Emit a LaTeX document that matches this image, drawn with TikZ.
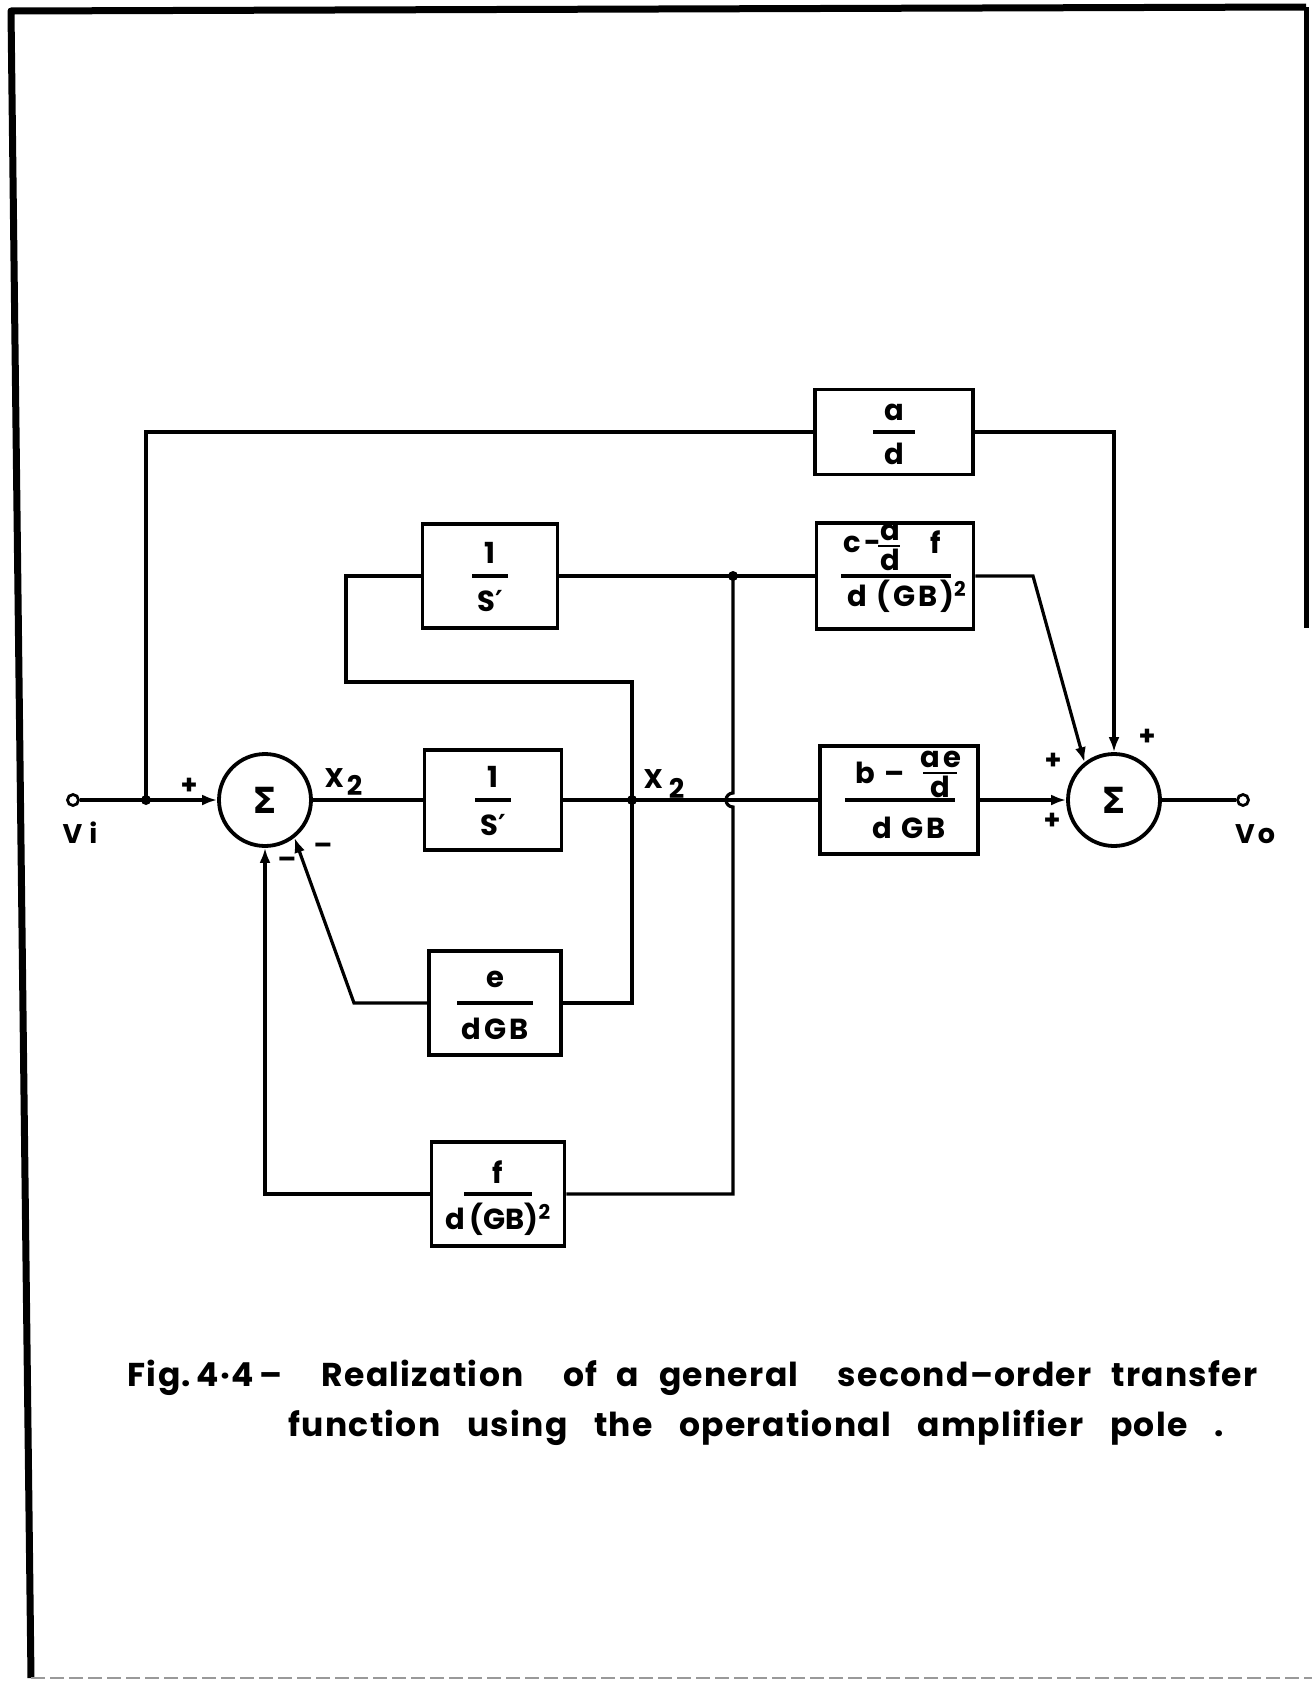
\documentclass[tikz,border=0pt]{standalone}
\usepackage{fontspec}
\setmainfont{Poppins}
\newfontfamily\symfont{DejaVu Sans}
\usetikzlibrary{arrows.meta,calc}
\newcommand\bfs{\fontsize{29}{32}\selectfont\bfseries\addfontfeature{LetterSpace=10}}
\newcommand\lfs{\fontsize{27}{30}\selectfont\bfseries}
\newcommand\capfs{\fontsize{33}{40}\selectfont\bfseries\addfontfeature{LetterSpace=4}}
\newcommand\fracin[6]{%
  \node[lbl,anchor=base] at ($(#1.center)+(0,#5)$) {#2};
  \draw[frule] ($(#1.center)+(-#4,0)$) -- ($(#1.center)+(#4,0)$);
  \node[lbl,anchor=base] at ($(#1.center)+(0,#6)$) {#3};}
\begin{document}
\begin{tikzpicture}[x=1pt,y=-1pt,line width=3.2pt,
  blk/.style={draw,line width=3.8pt,rectangle,inner sep=0},
  sumnode/.style={draw,circle,line width=3.8pt,minimum size=92pt,inner sep=0,font=\symfont\bfseries\fontsize{36}{36}\selectfont},
  term/.style={draw,circle,line width=2.8pt,minimum size=11pt,inner sep=0,fill=white},
  jdot/.style={circle,fill,minimum size=10pt,inner sep=0},
  arr/.style={-{Latex[length=15pt,width=11pt]}},
  lbl/.style={font=\bfs,inner sep=0},
  pm/.style={font=\fontsize{27}{27}\selectfont\bfseries,inner sep=0},
  frule/.style={line width=3.2pt}]
\useasboundingbox (0,0) rectangle (1312,1681);

% page frame
\draw[line width=7pt,line join=round] (31,1678) -- (11,11) -- (1306,7);
\draw[line width=5pt] (1306,7) -- (1306,628);
\draw[line width=1.5pt,black!40,dash pattern=on 14pt off 5pt] (31,1678) -- (1312,1678);

% main nodes
\node[term] (vi) at (73,800) {};
\coordinate (j0) at (146,800);
\node[sumnode] (s1) at (265,800) {Σ};
\node[blk,minimum width=137pt,minimum height=100pt] (b1) at (493,800) {};
\coordinate (j1) at (632,800);
\node[blk,minimum width=158pt,minimum height=108pt] (b4) at (899,800) {};
\node[sumnode] (s2) at (1114,800) {Σ};
\node[term] (vo) at (1243,800) {};
\node[blk,minimum width=135pt,minimum height=104pt] (b2) at (490,576) {};
\coordinate (j2) at (733,576);
\node[blk,minimum width=157pt,minimum height=106pt] (b3) at (895,576) {};
\node[blk,minimum width=158pt,minimum height=85pt] (b5) at (894,432) {};
\node[blk,minimum width=132pt,minimum height=104pt] (b6) at (495,1003) {};
\node[blk,minimum width=133pt,minimum height=104pt] (b7) at (498,1194) {};

% helper coordinates
\coordinate (c3) at (1033,576);
\coordinate (fb1) at (632,682);
\coordinate (fb2) at (346,682);
\coordinate (fb3) at (346,576);
\coordinate (fe) at (632,1003);
\coordinate (ce) at (354,1003);
\coordinate (hopT) at (733,793);
\coordinate (ff) at (733,1194);
\coordinate (cf) at (265,1194);

% connectors
\draw (vi) -- (j0);
\draw[arr] (j0) -- (s1.west);
\draw (s1.east) -- (b1.west);
\draw (b1.east) -- (j1) -- (b4.west);
\draw[arr] (b4.east) -- (s2.west);
\draw (s2.east) -- (vo);
\draw (j0) |- (b5.west);
\draw[arr] (b5.east) -| (s2.north);
\draw (b2.east) -- (j2) -- (b3.west);
\draw[arr] (b3.east) -- (c3) -- (s2.128);
\draw (j1) -- (fb1) -- (fb2) -- (fb3) -- (b2.west);
\draw (j1) -- (fe) -- (b6.east);
\draw[arr] (b6.west) -- (ce) -- (s1.-52);
\draw (j2) -- (hopT) arc[start angle=90,end angle=270,radius=7pt] -- (ff) -- (b7.east);
\draw[arr] (b7.west) -- (cf) -- (s1.south);

% junction dots
\node[jdot] (d0) at (j0) {};
\node[jdot] (d1) at (j1) {};
\node[jdot] (d2) at (j2) {};

% block contents
\fracin{b1}{1}{S{\symfont\bfseries ′}}{18}{-13}{35}
\fracin{b2}{1}{S{\symfont\bfseries ′}}{18}{-13}{35}
\fracin{b5}{a}{d}{21}{-12}{32}
\fracin{b6}{e}{dGB}{38}{-16}{36}
\fracin{b7}{f}{\addfontfeature{LetterSpace=0}d\,(GB)\textsuperscript{2}}{34}{-11}{35}
% b3: c - (a/d) f over d(GB)^2
\node[lbl,anchor=base west] (b3c) at ($(b3.center)+(-53,-24)$) {\addfontfeature{LetterSpace=0}c\kern3pt-};
\node[lbl,anchor=base] (b3a) at ($(b3.center)+(-5,-36)$) {a};
\draw[line width=2.5pt] ($(b3.center)+(-17,-30)$) -- ($(b3.center)+(5,-30)$);
\node[lbl,anchor=base] (b3d) at ($(b3.center)+(-5,-6)$) {d};
\node[lbl,anchor=base west] (b3f) at ($(b3.center)+(34,-23)$) {f};
\draw[frule] ($(b3.center)+(-54,0)$) -- ($(b3.center)+(56,0)$);
\node[lbl,anchor=base] (b3den) at ($(b3.center)+(12,30)$) {d (GB)\textsuperscript{2}};
% b4: b - (ae/d) over d GB
\node[lbl,anchor=base west] (b4b) at ($(b4.center)+(-45,-17)$) {b –};
\node[lbl,anchor=base] (b4ae) at ($(b4.center)+(42,-33)$) {ae};
\draw[line width=2.5pt] ($(b4.center)+(24,-27)$) -- ($(b4.center)+(58,-27)$);
\node[lbl,anchor=base] (b4d) at ($(b4.center)+(41,-3)$) {d};
\draw[frule] ($(b4.center)+(-54,0)$) -- ($(b4.center)+(56,0)$);
\node[lbl,anchor=base] (b4den) at ($(b4.center)+(10,38)$) {d GB};

% signal labels
\node[font=\lfs,inner sep=0,anchor=base west] (x2a) at (323,787) {X\kern3pt\raisebox{-8pt}{2}};
\node[font=\lfs,inner sep=0,anchor=base west] (x2b) at (642,788) {X\kern6pt\raisebox{-10pt}{2}};
\node[font=\lfs,inner sep=0,anchor=base] (vil) at (80,843) {V\kern7pt i};
\node[font=\lfs,inner sep=0,anchor=base] (vol) at (1255,843) {V\kern3pt o};

% signs
\node[pm] (p1) at (189,786) {+};
\node[pm] (m1) at (287,863) {–};
\node[pm] (m2) at (323,849) {–};
\node[pm] (p2) at (1053,761) {+};
\node[pm] (p3) at (1147,737) {+};
\node[pm] (p4) at (1052,821) {+};

% caption
\node[anchor=base west,inner sep=0,font=\capfs] (cap1) at (126,1386)
  {\makebox[1130pt][s]{Fig.\,4·4\,–\ \ Realization\ \ of a general\ \ second–order transfer}};
\node[anchor=base west,inner sep=0,font=\capfs] (cap2) at (287,1436)
  {\makebox[935pt][s]{function using the operational amplifier pole\ .}};
\end{tikzpicture}
\end{document}
